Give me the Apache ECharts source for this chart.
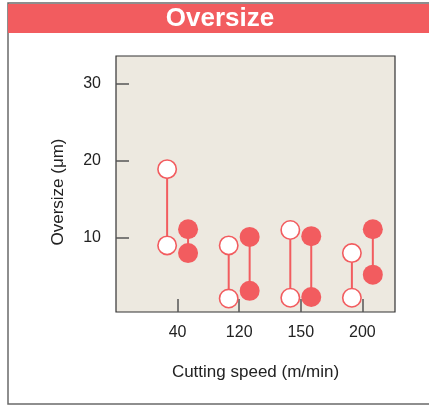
<!DOCTYPE html>
<html>
<head>
<meta charset="utf-8">
<script src="https://cdn.jsdelivr.net/npm/echarts@6/dist/echarts.min.js"></script>
<style>
html,body{margin:0;padding:0;background:#fff;}
#chart{width:429px;height:405px;}
</style>
</head>
<body>
<div id="chart"></div>
<script>
var titleText = 'Oversize';
var speeds = ['40', '120', '150', '200'];
var openLow = [9.0, 2.1, 2.2, 2.2];
var openHigh = [18.9, 9.0, 11.0, 8.0];
var filledLow = [8.0, 3.1, 2.3, 5.2];
var filledHigh = [11.1, 10.1, 10.2, 11.1];
var yTicks = [10, 20, 30];
var xTitle = 'Cutting speed (m/min)';
var yTitle = 'Oversize (μm)';

var RED = '#F25C5F';
var OFFSET = 0.17;

function rangeData(low, high) {
  return speeds.map(function (s, i) { return [i + 1, low[i], high[i]]; });
}

function makeRender(offset, hollow) {
  return function (params, api) {
    var x = api.value(0) + offset;
    var p1 = api.coord([x, api.value(1)]);
    var p2 = api.coord([x, api.value(2)]);
    var r = hollow ? 9.2 : 10;
    var circStyle = hollow ? {fill: '#fff', stroke: RED, lineWidth: 1.6} : {fill: RED};
    return {
      type: 'group',
      children: [
        {type: 'line', shape: {x1: p1[0], y1: p1[1], x2: p2[0], y2: p2[1]}, style: {stroke: RED, lineWidth: 2}},
        {type: 'circle', shape: {cx: p1[0], cy: p1[1], r: r}, style: circStyle},
        {type: 'circle', shape: {cx: p2[0], cy: p2[1], r: r}, style: circStyle}
      ]
    };
  };
}

var chart = echarts.init(document.getElementById('chart'), null, {renderer: 'canvas'});
var font = 'Liberation Sans, Arial, sans-serif';
chart.setOption({
  animation: false,
  textStyle: {fontFamily: font},
  graphic: [
    {type: 'rect', shape: {x: 8, y: 3, width: 430, height: 401}, style: {fill: 'none', stroke: '#6a6a6a', lineWidth: 1.5}, z: 10},
    {type: 'rect', shape: {x: 8, y: 4, width: 421, height: 29}, style: {fill: RED}, z: 11},
    {type: 'text', x: 220, y: 19, style: {text: titleText, fill: '#fff', font: 'bold 26px ' + font, textAlign: 'center', textVerticalAlign: 'middle'}, z: 12},
    {type: 'text', x: 58, y: 192, rotation: Math.PI / 2, style: {text: yTitle, fill: '#222', font: '17px ' + font, textAlign: 'center', textVerticalAlign: 'middle'}, z: 12}
  ],
  grid: {left: 116, top: 56, right: 34, bottom: 93, show: true, backgroundColor: '#EDE9E0', borderColor: '#333', borderWidth: 1.2},
  xAxis: {
    type: 'value', min: 0, max: 4.53,
    axisLine: {show: false},
    splitLine: {show: false},
    axisTick: {show: true, inside: true, length: 13, customValues: [1, 2, 3, 4], lineStyle: {color: '#555', width: 1.5}},
    axisLabel: {customValues: [1, 2, 3, 4], margin: 13, fontSize: 16, color: '#222',
      formatter: function (v) { return speeds[Math.round(v) - 1] || ''; }},
    name: xTitle, nameLocation: 'middle', nameGap: 52,
    nameTextStyle: {fontSize: 17, color: '#222'}
  },
  yAxis: {
    type: 'value', min: 0.35, max: 33.6,
    axisLine: {show: false},
    splitLine: {show: false},
    axisTick: {show: true, inside: true, length: 13, customValues: yTicks, lineStyle: {color: '#555', width: 1.5}},
    axisLabel: {customValues: yTicks, margin: 15, fontSize: 16, color: '#222'}
  },
  series: [
    {type: 'custom', renderItem: makeRender(-OFFSET, true), data: rangeData(openLow, openHigh), encode: {x: 0, y: [1, 2]}},
    {type: 'custom', renderItem: makeRender(OFFSET, false), data: rangeData(filledLow, filledHigh), encode: {x: 0, y: [1, 2]}}
  ]
});
</script>
</body>
</html>
